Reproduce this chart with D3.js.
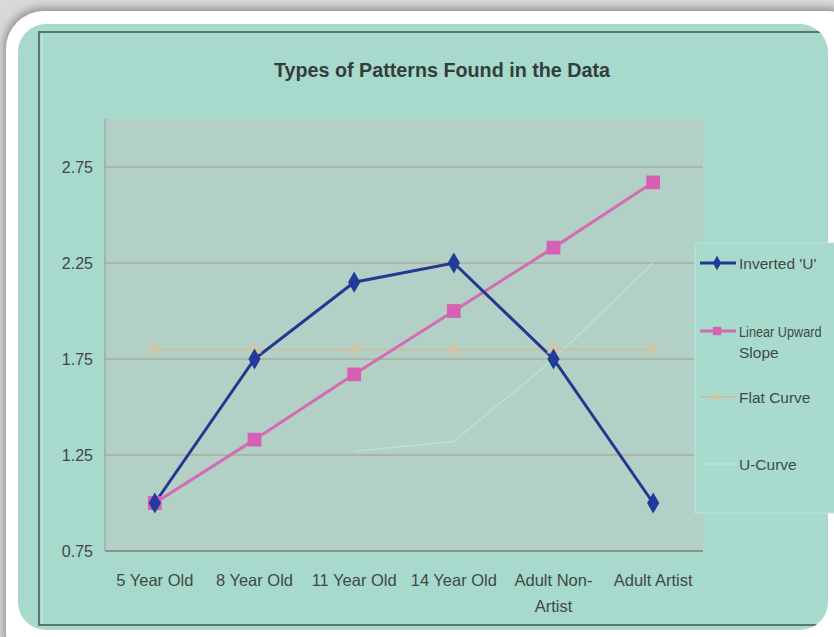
<!DOCTYPE html>
<html>
<head>
<meta charset="utf-8">
<script src="https://cdn.jsdelivr.net/npm/d3@7/dist/d3.min.js"></script>
<style>
  html, body { margin: 0; padding: 0; background: #ffffff; }
  svg { display: block; }
  text { font-family: "Liberation Sans", Arial, Helvetica, sans-serif; }
</style>
</head>
<body>
<svg id="chart" width="834" height="637"></svg>
<script>
// Categories along the x axis
const categories = ["5 Year Old", "8 Year Old", "11 Year Old", "14 Year Old", "Adult Non-Artist", "Adult Artist"];
// Two-line labels for the category axis
const categoryLabels = [["5 Year Old"], ["8 Year Old"], ["11 Year Old"], ["14 Year Old"], ["Adult Non-", "Artist"], ["Adult Artist"]];

// Series values
const invertedU    = [1.0, 1.75, 2.15, 2.25, 1.75, 1.0];
const linearUpward = [1.0, 1.33, 1.67, 2.0, 2.33, 2.67];
const flatCurve    = [1.8, 1.8, 1.8, 1.8, 1.8, 1.8];
const uCurve       = [null, null, 1.27, 1.32, 1.75, 2.25];

// Value axis ticks
const yTicks = [0.75, 1.25, 1.75, 2.25, 2.75];
const yLabels = ["0.75", "1.25", "1.75", "2.25", "2.75"];

const seriesNames = ["Inverted 'U'", "Linear Upward Slope", "Flat Curve", "U-Curve"];

const svg = d3.select("#chart");
const defs = svg.append("defs");

// soft shadow around the white frame
const shadow = defs.append("filter").attr("id", "frameShadow")
  .attr("x", "-10%").attr("y", "-10%").attr("width", "120%").attr("height", "120%");
shadow.append("feDropShadow").attr("dx", -2).attr("dy", -3)
  .attr("stdDeviation", 4).attr("flood-color", "#6e6e6e").attr("flood-opacity", 0.7);

defs.append("clipPath").attr("id", "panelClip")
  .append("rect").attr("x", 18).attr("y", 24).attr("width", 810).attr("height", 606).attr("rx", 28);

// page / frame
svg.append("rect").attr("width", 834).attr("height", 637).attr("fill", "#d9d9d9");
svg.append("rect").attr("x", 6).attr("y", 11).attr("width", 860).attr("height", 660)
  .attr("rx", 38).attr("fill", "#ffffff").attr("filter", "url(#frameShadow)");

// teal panel
svg.append("rect").attr("x", 18).attr("y", 24).attr("width", 810).attr("height", 606)
  .attr("rx", 28).attr("fill", "#a7d9cc");

const panel = svg.append("g").attr("clip-path", "url(#panelClip)");

// chart border
panel.append("rect").attr("x", 39).attr("y", 32).attr("width", 830).attr("height", 593)
  .attr("fill", "none").attr("stroke", "#5d7570").attr("stroke-width", 2);
panel.append("line").attr("x1", 42).attr("x2", 42).attr("y1", 34).attr("y2", 623)
  .attr("stroke", "#b7e3d8").attr("stroke-width", 2);

// scales
const plotLeft = 105, plotRight = 703, plotTop = 119, plotBottom = 551;
const x = d3.scaleBand().domain(categories).range([plotLeft, plotRight]);
const cx = c => x(c) + x.bandwidth() / 2;
const y = d3.scaleLinear().domain([0.75, 3.0]).range([plotBottom, plotTop]);

// plot area
panel.append("rect").attr("x", plotLeft).attr("y", plotTop)
  .attr("width", plotRight - plotLeft).attr("height", plotBottom - plotTop)
  .attr("fill", "#b3d0c6");

// gridlines
panel.append("g").selectAll("line").data(yTicks.slice(1)).join("line")
  .attr("x1", plotLeft).attr("x2", plotRight)
  .attr("y1", d => y(d)).attr("y2", d => y(d))
  .attr("stroke", "#a59b8d").attr("stroke-width", 1.5).attr("opacity", 0.65);

// plot border (left and bottom)
panel.append("line").attr("x1", plotLeft).attr("x2", plotLeft).attr("y1", plotTop).attr("y2", plotBottom)
  .attr("stroke", "#9aaea7").attr("stroke-width", 1.5);
panel.append("line").attr("x1", plotLeft).attr("x2", plotRight).attr("y1", plotBottom).attr("y2", plotBottom)
  .attr("stroke", "#84968f").attr("stroke-width", 2);

// y axis labels
const yAxis = d3.axisLeft(y).tickValues(yTicks).tickFormat((d, i) => yLabels[i]).tickSize(0).tickPadding(12);
const yg = panel.append("g").attr("transform", `translate(${plotLeft},0)`).call(yAxis);
yg.select(".domain").remove();
yg.selectAll("text").attr("font-size", 16).attr("fill", "#3f4a47")
  .attr("font-family", "'Liberation Sans', Arial, sans-serif");

// x axis labels
const xAxis = d3.axisBottom(x).tickSize(0).tickFormat("");
const xg = panel.append("g").attr("transform", `translate(0,${plotBottom})`).call(xAxis);
xg.select(".domain").remove();
xg.selectAll(".tick").each(function(d, i) {
  const t = d3.select(this).append("text")
    .attr("text-anchor", "middle").attr("font-size", 16.5).attr("fill", "#3f4a47")
    .attr("font-family", "'Liberation Sans', Arial, sans-serif");
  categoryLabels[i].forEach((line, j) => {
    t.append("tspan").attr("x", 0).attr("y", 35 + j * 26).text(line);
  });
});

// title
panel.append("text").attr("x", 442).attr("y", 77).attr("text-anchor", "middle")
  .attr("font-size", 19.5).attr("font-weight", "bold").attr("fill", "#333d3b")
  .attr("textLength", 336).attr("lengthAdjust", "spacingAndGlyphs")
  .text("Types of Patterns Found in the Data");

// series lines
const line = d3.line().defined(d => d.v != null).x(d => cx(d.c)).y(d => y(d.v));
const pts = arr => categories.map((c, i) => ({ c, v: arr[i] }));

const series = [
  { name: seriesNames[0], values: invertedU, color: "#24388f", width: 3, marker: "diamond", mcolor: "#223a9a", opacity: 1 },
  { name: seriesNames[1], values: linearUpward, color: "#d46cb2", width: 3, marker: "square", mcolor: "#d660b4", opacity: 1 },
  { name: seriesNames[2], values: flatCurve, color: "#cdb99a", width: 2, marker: "triangle", mcolor: "#d8c3a3", opacity: 0.75 },
  { name: seriesNames[3], values: uCurve, color: "#b4e6d8", width: 1.5, marker: null, mcolor: null, opacity: 0.9 }
];

const plotG = panel.append("g");
// draw order: faint series first
[3, 2, 1, 0].forEach(k => {
  const s = series[k];
  plotG.append("path").datum(pts(s.values)).attr("d", line)
    .attr("fill", "none").attr("stroke", s.color).attr("stroke-width", s.width)
    .attr("opacity", s.opacity);
});

const symbolFor = m => m === "diamond" ? d3.symbol(d3.symbolDiamond, 130)
  : m === "square" ? d3.symbol(d3.symbolSquare, 190)
  : d3.symbol(d3.symbolTriangle, 90);

[2, 1, 0].forEach(k => {
  const s = series[k];
  plotG.append("g").selectAll("path").data(pts(s.values).filter(d => d.v != null)).join("path")
    .attr("d", symbolFor(s.marker)())
    .attr("transform", d => `translate(${cx(d.c)},${y(d.v)})`)
    .attr("fill", s.mcolor).attr("opacity", s.opacity);
});

// legend
const lg = svg.append("g");
lg.append("rect").attr("x", 695).attr("y", 243).attr("width", 150).attr("height", 270)
  .attr("fill", "#a8dbce").attr("stroke", "#b9e6da").attr("stroke-width", 1);

const legendRows = [
  { s: series[0], y: 263, lines: ["Inverted 'U'"] },
  { s: series[1], y: 331, lines: ["Linear Upward", "Slope"] },
  { s: series[2], y: 397, lines: ["Flat Curve"] },
  { s: series[3], y: 464, lines: ["U-Curve"] }
];
legendRows.forEach(r => {
  lg.append("line").attr("x1", 700).attr("x2", 736).attr("y1", r.y).attr("y2", r.y)
    .attr("stroke", r.s.color).attr("stroke-width", r.s.width).attr("opacity", r.s.opacity);
  if (r.s.marker) {
    const sym = r.s.marker === "diamond" ? d3.symbol(d3.symbolDiamond, 60)
      : r.s.marker === "square" ? d3.symbol(d3.symbolSquare, 70)
      : d3.symbol(d3.symbolTriangle, 40);
    lg.append("path").attr("d", sym()).attr("transform", `translate(717,${r.y})`)
      .attr("fill", r.s.mcolor).attr("opacity", r.s.opacity);
  }
  r.lines.forEach((ln, j) => {
    // the long first line is narrowed so it stays inside the page edge
    const sx = ln.length > 12 ? 0.82 : 1;
    lg.append("text").attr("font-size", 15.5).attr("fill", "#3f4a47")
      .attr("transform", `translate(739,${r.y + 6 + j * 21}) scale(${sx},1)`)
      .text(ln);
  });
});
</script>
</body>
</html>
